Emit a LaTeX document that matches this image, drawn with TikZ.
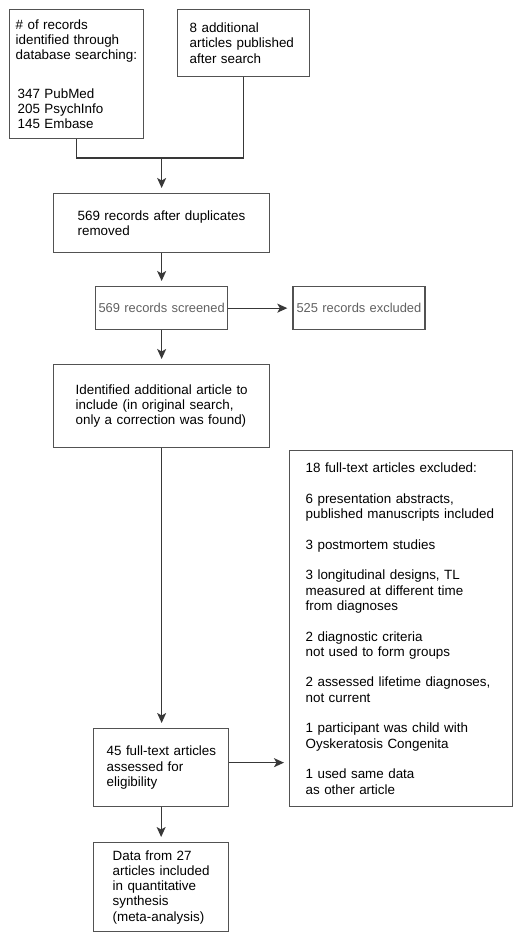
\documentclass[tikz,border=0pt]{standalone}
\usepackage{fontspec}
\setmainfont{Liberation Sans}
\usetikzlibrary{arrows.meta, positioning, calc}
\hyphenpenalty=10000
\exhyphenpenalty=10000
\tikzset{
  box/.style = {
    draw=black!68!white, line width=1.3pt, anchor=north west, align=left,
    inner ysep=0pt, font=\fontsize{13.4}{15.3}\selectfont,
  },
  screened/.style = {
    box, align=center, text=black!62!white, inner xsep=2pt, text width=128pt,
    minimum height=43pt, font=\fontsize{12.9}{15}\selectfont,
  },
  line/.style = {line width=1.3pt, black!78!white},
  link/.style = {line, arrows={-Stealth[length=10pt, width=9pt, inset=2.5pt]},
                 shorten >=5pt},
}
\newcommand{\gap}{\\[15.3pt]}

\begin{document}
\begin{tikzpicture}
  \useasboundingbox (0pt, 0pt) rectangle (521pt, -941pt);

  %% Identification
  \node [box, text width=122pt, inner xsep=6pt, minimum height=129pt]
        (search) at (9pt, -9pt)
        {\# of records\\ identified through\\ \mbox{database searching:}\\[23pt]
         \hspace*{2pt}347 PubMed\\ \hspace*{2pt}205 PsychInfo\\
         \hspace*{2pt}145 Embase};
  \node [box, text width=108pt, inner xsep=12pt, minimum height=67pt]
        (extra) at (177pt, -9pt)
        {8 additional\\ \mbox{articles published}\\ after search};

  %% Screening
  \node [box, text width=168pt, inner xsep=24pt, minimum height=59pt]
        (dupes) at (53pt, -193pt)
        {\mbox{569 records after duplicates}\\ removed};
  \node [screened] (screen) at (95pt, -286pt) {569 records screened};
  \node [screened, right=64pt of screen.north east, anchor=north west]
        (excl) {525 records excluded};
  \node [box, text width=172pt, inner xsep=22pt, minimum height=83pt]
        (found) at (53pt, -364pt)
        {\mbox{Identified additional article to}\\
         \mbox{include (in original search,}\\
         \mbox{only a correction was found)}};

  %% Eligibility and inclusion
  \node [box, text width=109pt, inner xsep=13pt, minimum height=78pt]
        (full) at (93pt, -728pt)
        {\mbox{45 full-text articles}\\ assessed for\\ eligibility};
  \node [box, text width=191pt, inner xsep=16pt, minimum height=356pt]
        (fullex) at (289pt, -450pt)
        {18 full-text articles excluded:\gap
         6 presentation abstracts,\\ \mbox{published manuscripts included}\gap
         3 postmortem studies\gap
         3 longitudinal designs, TL\\ measured at different time\\
         from diagnoses\gap
         2 diagnostic criteria\\ not used to form groups\gap
         2 assessed lifetime diagnoses,\\ not current\gap
         1 participant was child with\\ Oyskeratosis Congenita\gap
         1 used same data\\ as other article};
  \node [box, text width=97pt, inner xsep=19pt, minimum height=89pt]
        (meta) at (93pt, -842pt)
        {Data from 27\\ \mbox{articles included}\\ \mbox{in quantitative}\\
         synthesis\\ \mbox{(meta-analysis)}};

  %% Connect them together
  \coordinate (merge) at (dupes.north |- 0pt, -158pt);
  \draw [line] (search.south) |- (merge) -| (extra.south);
  \draw [link] (merge) -- (dupes.north);
  \draw [link] (dupes) -- (screen);
  \draw [link] (screen) -- (excl);
  \draw [link] (screen) -- (found);
  \draw [link] (found.south) -- (found.south |- full.north);
  \draw [link] ([yshift=5pt] full.east) -- ([yshift=5pt] full.east -| fullex.west);
  \draw [link] (full) -- (meta);
\end{tikzpicture}
\end{document}
